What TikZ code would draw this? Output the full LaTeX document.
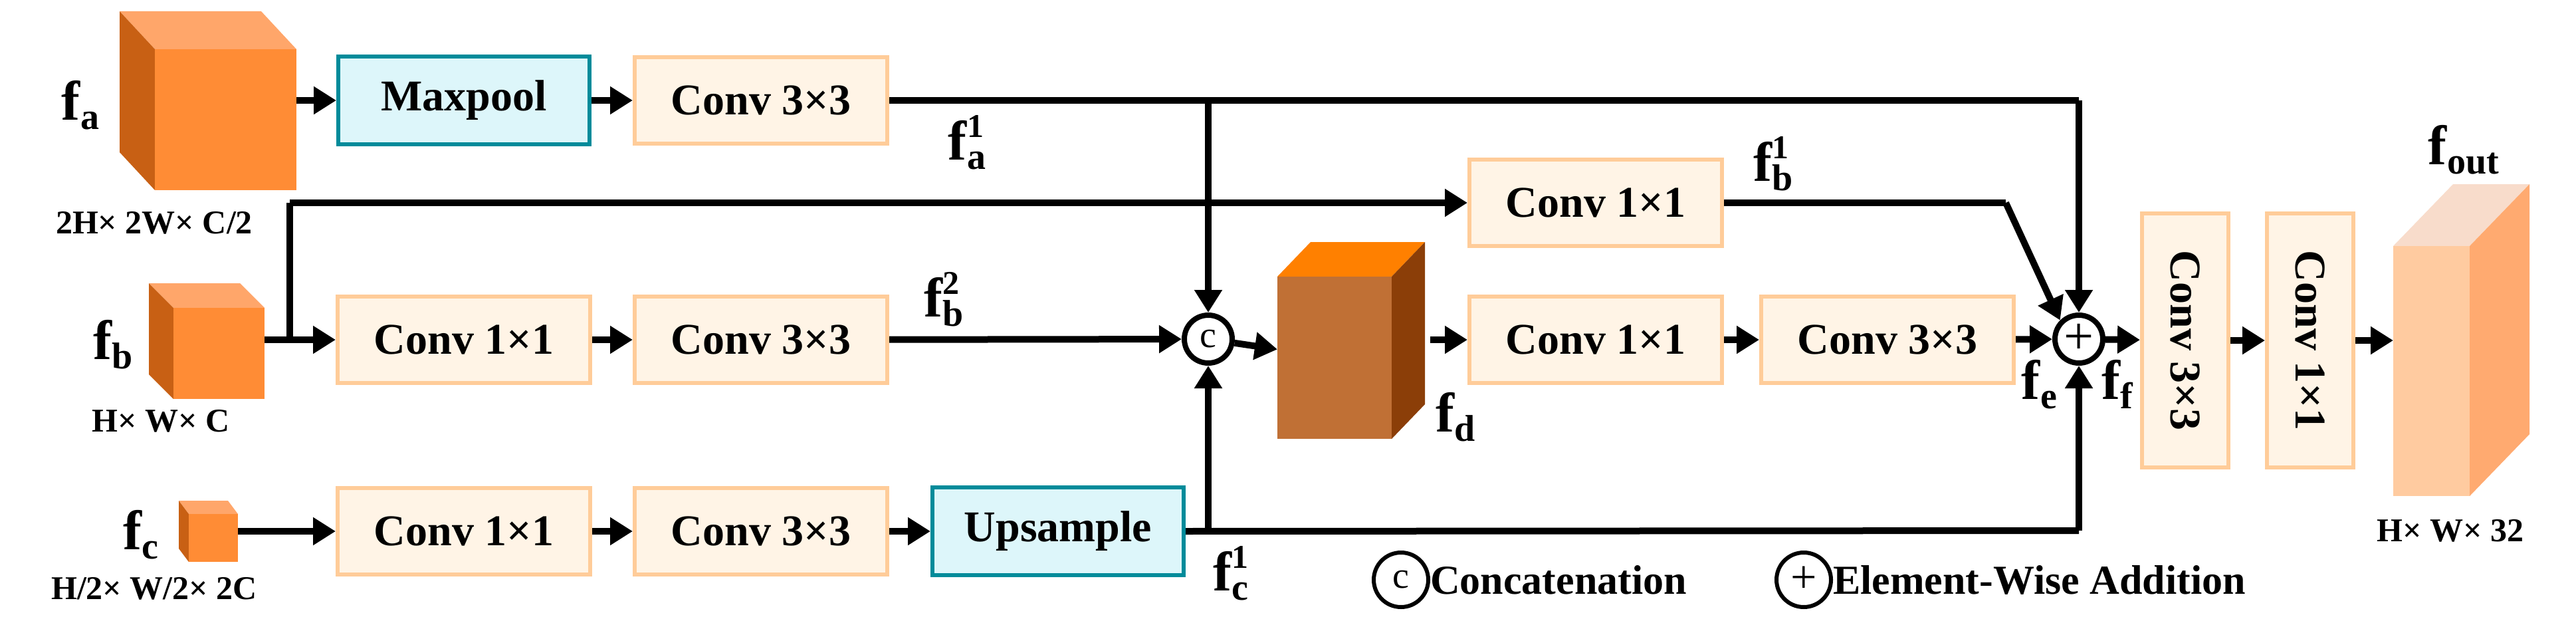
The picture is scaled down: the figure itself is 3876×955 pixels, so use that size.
\documentclass[tikz,border=0pt]{standalone}
\usepackage{fontspec}
\setmainfont{Liberation Serif}
\usetikzlibrary{arrows.meta,positioning}
\definecolor{cfront}{HTML}{FF8C35}
\definecolor{ctop}{HTML}{FFA66A}
\definecolor{cside}{HTML}{C86014}
\definecolor{obord}{HTML}{FFCC99}
\definecolor{ofill}{HTML}{FFF4E6}
\definecolor{tbord}{HTML}{008B9A}
\definecolor{tfill}{HTML}{DDF6FA}
\definecolor{dtop}{HTML}{FF8000}
\definecolor{dside}{HTML}{8B3E08}
\definecolor{dfront}{HTML}{C07035}
\definecolor{otop}{HTML}{F8DCCB}
\definecolor{oside}{HTML}{FFAA70}
\definecolor{ofront}{HTML}{FFCBA0}
\newcommand{\fl}[2]{\textbf{f}\rlap{\fontsize{50}{50}\selectfont\raisebox{34pt}{\textbf{#2}}}\fontsize{56}{56}\selectfont\raisebox{-14pt}{\textbf{#1}}}
\begin{document}
\begin{tikzpicture}[x=1pt,y=-1pt,
  conv/.style={draw=obord,fill=ofill,line width=6pt,minimum width=380pt,minimum height=130pt,inner sep=0pt,font=\fontsize{66}{66}\selectfont\bfseries},
  tconv/.style={draw=tbord,fill=tfill,line width=6pt,minimum width=378pt,minimum height=132pt,inner sep=0pt,font=\fontsize{66}{66}\selectfont\bfseries},
  vconv/.style={conv,minimum width=382pt,minimum height=130pt,rotate=-90},
  face/.style={draw=none,inner sep=0pt,outer sep=0pt},
  ln/.style={line width=10pt},
  ar/.style={line width=10pt,-{Triangle[length=34pt,width=40pt]}},
  op/.style={circle,draw,line width=8pt,minimum size=72pt,inner sep=0pt,font=\fontsize{56}{56}\selectfont},
  lab/.style={font=\fontsize{84}{84}\selectfont,inner sep=0pt},
  dim/.style={font=\fontsize{50}{50}\selectfont\bfseries,inner sep=0pt},
  leg/.style={font=\fontsize{62}{62}\selectfont\bfseries,anchor=west,inner sep=0pt}]
\useasboundingbox (0,0) rectangle (3876,955);
\fill[white] (0,0) rectangle (3876,955);
% fa cube
\fill[ctop] (233,74) -- (446,74) -- (393,17) -- (180,17) -- cycle;
\fill[cside] (233,74) -- (180,17) -- (180,229) -- (233,286) -- cycle;
\node[face,fill=cfront,minimum width=213pt,minimum height=212pt] (fa) at (339.5,180) {};
% fb cube
\fill[ctop] (261,463) -- (398,463) -- (361,426) -- (224,426) -- cycle;
\fill[cside] (261,463) -- (224,426) -- (224,563) -- (261,600) -- cycle;
\node[face,fill=cfront,minimum width=137pt,minimum height=137pt] (fb) at (329.5,531.5) {};
% fc cube
\fill[ctop] (284,773) -- (358,773) -- (343,753) -- (269,753) -- cycle;
\fill[cside] (284,773) -- (269,753) -- (269,825) -- (284,845) -- cycle;
\node[face,fill=cfront,minimum width=74pt,minimum height=72pt] (fc) at (321,809) {};
% fd cube
\fill[dtop] (1922,416) -- (2094,416) -- (2144,364) -- (1972,364) -- cycle;
\fill[dside] (2094,416) -- (2144,364) -- (2144,608) -- (2094,660) -- cycle;
\node[face,fill=dfront,minimum width=172pt,minimum height=244pt] (fd) at (2008,538) {};
% fout cube
\fill[otop] (3601,370) -- (3716,370) -- (3806,277) -- (3691,277) -- cycle;
\fill[oside] (3716,370) -- (3806,277) -- (3806,653) -- (3716,746) -- cycle;
\node[face,fill=ofront,minimum width=115pt,minimum height=376pt] (fo) at (3658.5,558) {};
% boxes
\node[tconv] (mp) at (698,151) {Maxpool};
\node[conv] (a3) at (1145,151) {Conv 3×3};
\node[conv] (b1) at (698,511) {Conv 1×1};
\node[conv] (b3) at (1145,511) {Conv 3×3};
\node[conv] (c1) at (698,799) {Conv 1×1};
\node[conv] (c3) at (1145,799) {Conv 3×3};
\node[tconv] (up) at (1592,799) {Upsample};
\node[conv] (t1) at (2401,305) {Conv 1×1};
\node[conv] (d1) at (2401,511) {Conv 1×1};
\node[conv] (d3) at (2840,511) {Conv 3×3};
\node[vconv] (v3) at (3288,512) {Conv 3×3};
\node[vconv] (v1) at (3476,512) {Conv 1×1};
\node[op] (cat) at (1818,510) {c};
\node[op,font=\fontsize{80}{80}\selectfont] (add) at (3128,510) {+};
% coordinates
\coordinate (ta) at (1818,151);
\coordinate (tb) at (3128,151);
\coordinate (uc) at (1818,798);
\coordinate (ub) at (3128,798);
\coordinate (br) at (436,510);
\coordinate (bu) at (436,305);
\coordinate (bk) at (3018,305);
% connectors
\draw[ar] (fa.east|-mp) -- (mp);
\draw[ar] (mp) -- (a3);
\draw[ln] (a3.east) -- (tb);
\draw[ar] (ta) -- (cat);
\draw[ar] (tb) -- (add);
\draw[ar] (fb.east|-b1) -- (b1);
\draw[ln] (br) -- (bu);
\draw[ar] (bu) -- (t1);
\draw[ar] (b1) -- (b3);
\draw[ar] (b3) -- (cat);
\draw[ar] (fc.east|-c1) -- (c1);
\draw[ar] (c1) -- (c3);
\draw[ar] (c3) -- (up);
\draw[ln] (up.east) -- (ub);
\draw[ar] (uc) -- (cat);
\draw[ar] (ub) -- (add);
\draw[ln] (t1) -- (bk);
\draw[ar] (bk) -- (add.north west);
\draw[ar] (cat) -- (fd);
\draw[ar] (2152,511) -- (d1);
\draw[ar] (d1) -- (d3);
\draw[ar] (d3) -- (add);
\draw[ar] (add) -- (v3);
\draw[ar] (v3) -- (v1);
\draw[ar] (v1) -- (fo.west|-v1);
% labels
\node[lab] (la) at (121,158) {\fl{a}{}};
\node[lab] (lb) at (170,518) {\fl{b}{}};
\node[lab] (lc) at (212,804) {\fl{c}{}};
\node[dim] (da) at (232,335) {2H× 2W× C/2};
\node[dim] (db) at (242,633) {H× W× C};
\node[dim] (dc) at (232,885) {H/2× W/2× 2C};
\node[lab] (la1) at (1455,214) {\fl{a}{1}};
\node[lab] (lb2) at (1420,450) {\fl{b}{2}};
\node[lab] (lc1) at (1852,862) {\fl{c}{1}};
\node[lab] (lb1) at (2668,246) {\fl{b}{1}};
\node[lab] (ld) at (2190,627) {\fl{d}{}};
\node[lab] (le) at (3068,578) {\fl{e}{}};
\node[lab] (lf) at (3186,578) {\fl{f}{}};
\node[lab] (lo) at (3707,225) {\fl{out}{}};
\node[dim] (dout) at (3687,798) {H× W× 32};
% legend
\node[op,minimum size=82pt,line width=6pt] (lgc) at (2108,872) {c};
\node[leg] (lgct) at (2152,872) {Concatenation};
\node[op,minimum size=82pt,line width=6pt,font=\fontsize{70}{70}\selectfont] (lga) at (2714,872) {+};
\node[leg] (lgat) at (2758,872) {Element-Wise Addition};
\end{tikzpicture}
\end{document}
